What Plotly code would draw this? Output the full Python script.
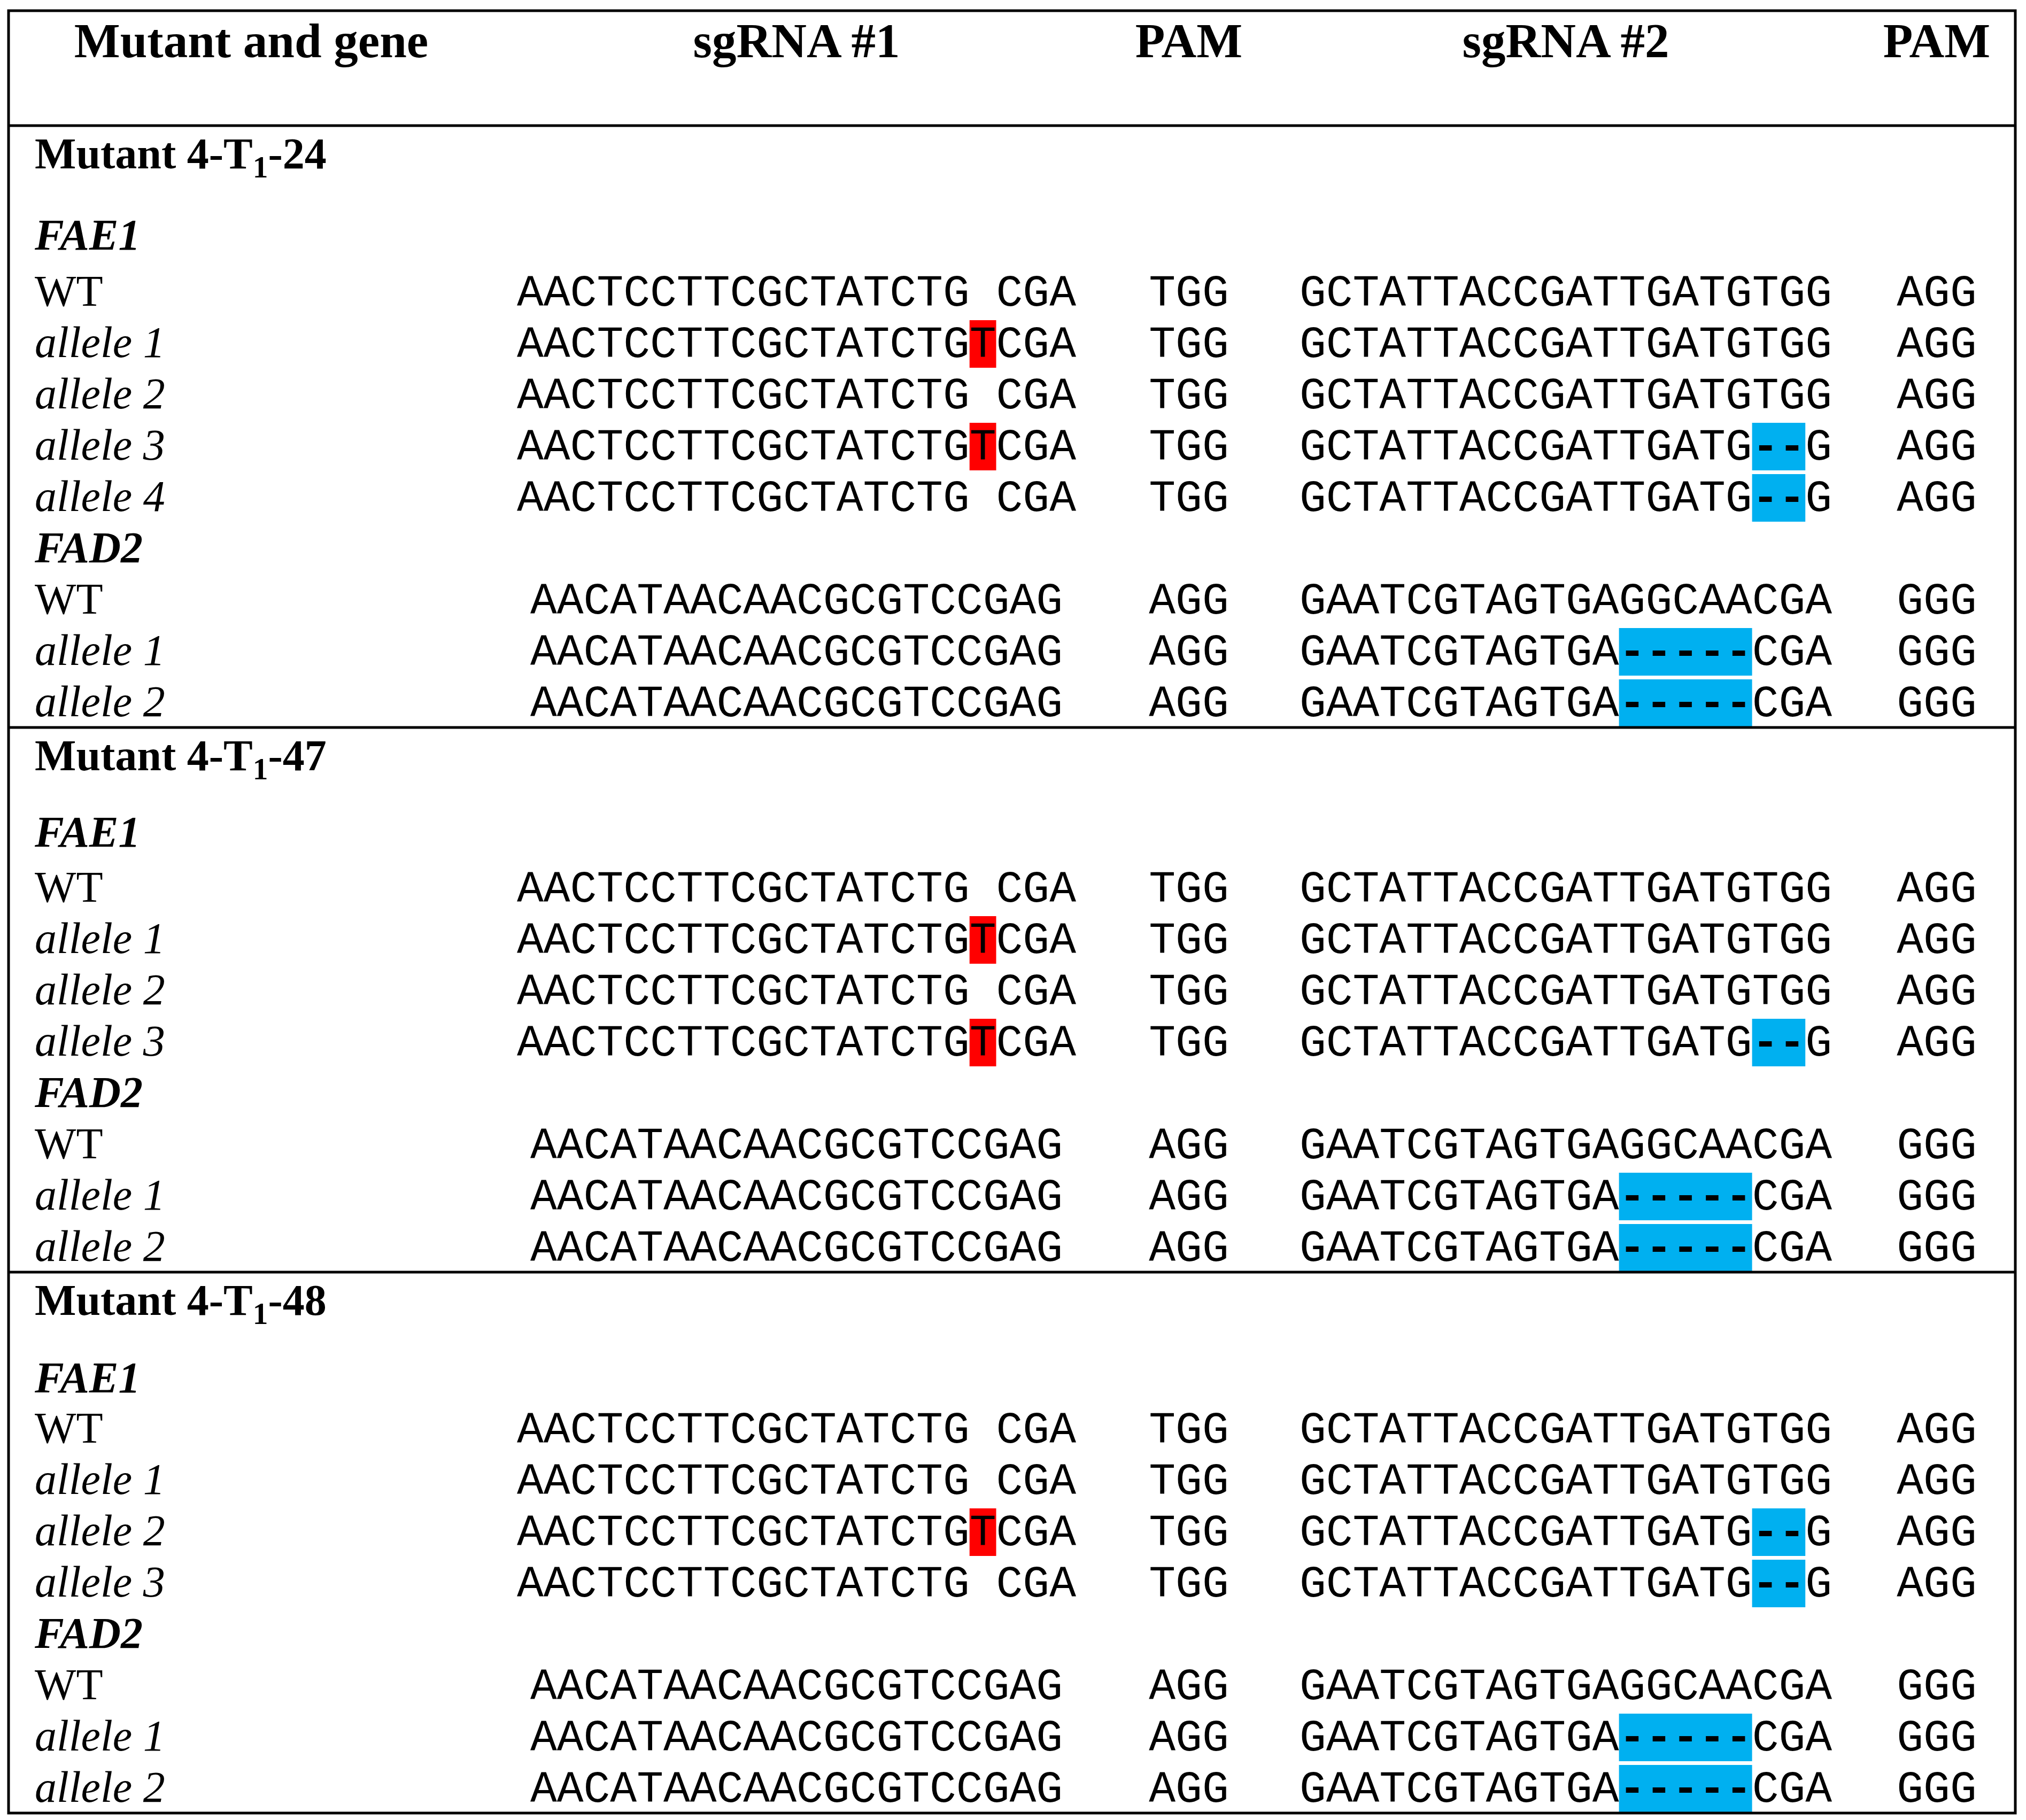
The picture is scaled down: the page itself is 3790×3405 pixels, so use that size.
import plotly.graph_objects as go

# ---------------- data ----------------
header_labels = ["Mutant and gene", "sgRNA #1", "PAM", "sgRNA #2", "PAM"]
mutant_ids = ["24", "47", "48"]
genes = ["FAE1", "FAD2"]

wt_sgrna1 = ["AACTCCTTCGCTATCTG CGA", "AACATAACAACGCGTCCGAG"]
wt_pam1 = ["TGG", "AGG"]
wt_sgrna2 = ["GCTATTACCGATTGATGTGG", "GAATCGTAGTGAGGCAACGA"]
wt_pam2 = ["AGG", "GGG"]

# alleles per mutant -> per gene -> list of [sgRNA#1 sequence, sgRNA#2 sequence]
m24_alleles = [
    [["AACTCCTTCGCTATCTGTCGA", "GCTATTACCGATTGATGTGG"],
     ["AACTCCTTCGCTATCTG CGA", "GCTATTACCGATTGATGTGG"],
     ["AACTCCTTCGCTATCTGTCGA", "GCTATTACCGATTGATG--G"],
     ["AACTCCTTCGCTATCTG CGA", "GCTATTACCGATTGATG--G"]],
    [["AACATAACAACGCGTCCGAG", "GAATCGTAGTGA-----CGA"],
     ["AACATAACAACGCGTCCGAG", "GAATCGTAGTGA-----CGA"]],
]
m47_alleles = [
    [["AACTCCTTCGCTATCTGTCGA", "GCTATTACCGATTGATGTGG"],
     ["AACTCCTTCGCTATCTG CGA", "GCTATTACCGATTGATGTGG"],
     ["AACTCCTTCGCTATCTGTCGA", "GCTATTACCGATTGATG--G"]],
    [["AACATAACAACGCGTCCGAG", "GAATCGTAGTGA-----CGA"],
     ["AACATAACAACGCGTCCGAG", "GAATCGTAGTGA-----CGA"]],
]
m48_alleles = [
    [["AACTCCTTCGCTATCTG CGA", "GCTATTACCGATTGATGTGG"],
     ["AACTCCTTCGCTATCTGTCGA", "GCTATTACCGATTGATG--G"],
     ["AACTCCTTCGCTATCTG CGA", "GCTATTACCGATTGATG--G"]],
    [["AACATAACAACGCGTCCGAG", "GAATCGTAGTGA-----CGA"],
     ["AACATAACAACGCGTCCGAG", "GAATCGTAGTGA-----CGA"]],
]
all_alleles = [m24_alleles, m47_alleles, m48_alleles]

# ---------------- layout / style ----------------
W, H = 3790, 3405
LEFT, RIGHT, TOP = 16, 3770, 20
HEADER_BASE = 107
HEADER_LINE = 235
PITCH = 96
MUT_OFF = 80
GENE_OFF = [152, 143, 145]   # mutant row -> first gene row, per section
WT_OFF = [105, 103, 94]      # first gene row -> WT row, per section
LINE_OFF = 21
LABEL_X = 65
COL_CENTER = [470, 1490, 2224, 2929, 3623]
HEAD_SIZE = 91
LABEL_SIZE = 82
MONO_SIZE = 83
ADV = 0.6 * MONO_SIZE
RED = "#FF0000"
BLUE = "#00B0F0"
SERIF = "Times New Roman, Liberation Serif, serif"
MONO = "Courier New, Liberation Mono, monospace"


def ypos(baseline, size):
    # plotly 'middle' text: baseline sits 0.25*size below the anchor point
    return baseline - 0.25 * size


# build rows
label_x, label_y, label_t = [], [], []
seq_rows = []  # (baseline, gene index, s1, s2)
section_lines = []
y_line = HEADER_LINE
for mi, mid in enumerate(mutant_ids):
    y = y_line + MUT_OFF
    label_x.append(LABEL_X); label_y.append(ypos(y, LABEL_SIZE))
    label_t.append(f"<b>Mutant 4-T<sub>1</sub>-{mid}</b>")
    for gi, g in enumerate(genes):
        y += GENE_OFF[mi] if gi == 0 else PITCH
        label_x.append(LABEL_X); label_y.append(ypos(y, LABEL_SIZE))
        label_t.append(f"<b><i>{g}</i></b>")
        y += WT_OFF[mi] if gi == 0 else PITCH
        label_x.append(LABEL_X); label_y.append(ypos(y, LABEL_SIZE))
        label_t.append("WT")
        seq_rows.append((y, gi, wt_sgrna1[gi], wt_sgrna2[gi]))
        for ai, (s1, s2) in enumerate(all_alleles[mi][gi]):
            y += PITCH
            label_x.append(LABEL_X); label_y.append(ypos(y, LABEL_SIZE))
            label_t.append(f"<i>allele {ai + 1}</i>")
            seq_rows.append((y, gi, s1, s2))
    y_line = y + LINE_OFF
    section_lines.append(y_line)

shapes = []


def mark_text(seq):
    # bold dashes for deletions
    return "".join("<b>-</b>" if c == "-" else c for c in seq)


def add_boxes(seq, wt, center, baseline):
    start = center - len(seq) * ADV / 2
    i = 0
    while i < len(seq):
        if seq[i] != wt[i]:
            j = i
            while j + 1 < len(seq) and seq[j + 1] != wt[j + 1]:
                j += 1
            color = RED if wt[i] == " " else BLUE
            shapes.append(dict(type="rect", xref="x", yref="y", layer="below",
                               x0=start + i * ADV, x1=start + (j + 1) * ADV,
                               y0=baseline - 69, y1=baseline + 20,
                               fillcolor=color, line=dict(width=0)))
            i = j + 1
        else:
            i += 1


seq_x, seq_y, seq_t = [], [], []
for (b, gi, s1, s2) in seq_rows:
    cols = [(s1, wt_sgrna1[gi], COL_CENTER[1]),
            (wt_pam1[gi], wt_pam1[gi], COL_CENTER[2]),
            (s2, wt_sgrna2[gi], COL_CENTER[3]),
            (wt_pam2[gi], wt_pam2[gi], COL_CENTER[4])]
    for s, wt, cx in cols:
        seq_x.append(cx)
        seq_y.append(ypos(b, MONO_SIZE))
        seq_t.append(mark_text(s))
        add_boxes(s, wt, cx, b)

fig = go.Figure()
fig.add_trace(go.Scatter(
    x=COL_CENTER, y=[ypos(HEADER_BASE, HEAD_SIZE)] * len(header_labels),
    text=[f"<b>{t}</b>" for t in header_labels], mode="text",
    textposition="middle center",
    textfont=dict(family=SERIF, size=HEAD_SIZE, color="black"),
    hoverinfo="skip", showlegend=False))
fig.add_trace(go.Scatter(
    x=label_x, y=label_y, text=label_t, mode="text",
    textposition="middle right",
    textfont=dict(family=SERIF, size=LABEL_SIZE, color="black"),
    hoverinfo="skip", showlegend=False))
fig.add_trace(go.Scatter(
    x=seq_x, y=seq_y, text=seq_t, mode="text",
    textposition="middle center",
    textfont=dict(family=MONO, size=MONO_SIZE, color="black"),
    hoverinfo="skip", showlegend=False))

# table rules
BW = 5
shapes.append(dict(type="rect", xref="x", yref="y", x0=LEFT, x1=RIGHT,
                   y0=TOP, y1=section_lines[-1], line=dict(color="black", width=BW)))
for yl in [HEADER_LINE] + section_lines[:-1]:
    shapes.append(dict(type="line", xref="x", yref="y", x0=LEFT, x1=RIGHT,
                       y0=yl, y1=yl, line=dict(color="black", width=BW)))

fig.update_layout(
    width=W, height=H, margin=dict(l=0, r=0, t=0, b=0),
    paper_bgcolor="white", plot_bgcolor="white",
    xaxis=dict(range=[0, W], visible=False, fixedrange=True),
    yaxis=dict(range=[H, 0], visible=False, fixedrange=True),
    shapes=shapes, showlegend=False,
)

fig.write_html("out.html", config={"displayModeBar": False},
               post_script="document.body.style.margin='0px';")
